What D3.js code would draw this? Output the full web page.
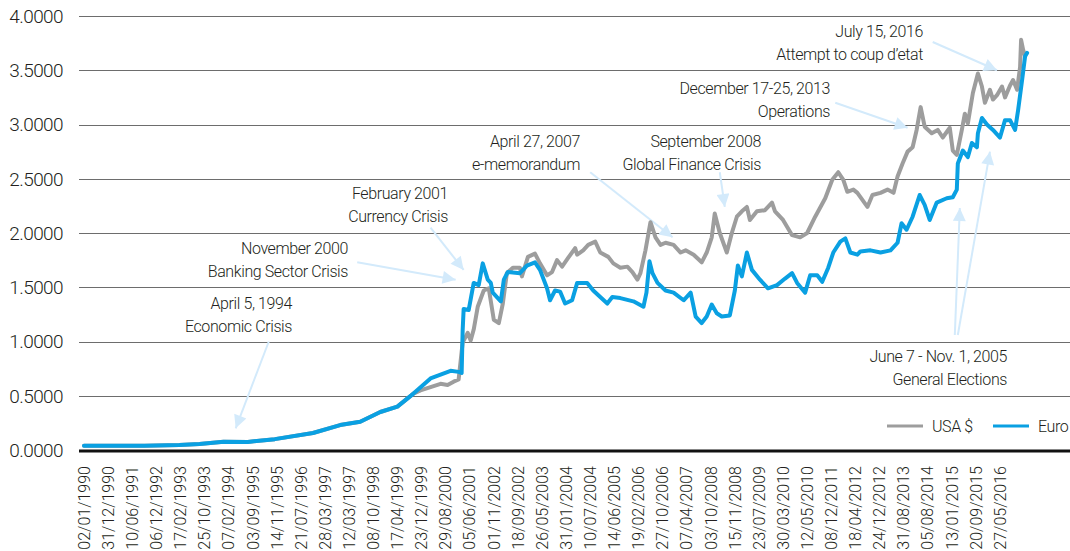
<!DOCTYPE html>
<meta charset="utf-8">
<style>
  body { margin: 0; background: white; }
  text { font-family: Roboto, "Liberation Sans", sans-serif; font-weight: 300; fill: #231f20; }
  .grid { stroke: #6d6d6d; stroke-width: 1px; }
  .baseline { stroke: #111; stroke-width: 3px; }
  .note-arrow { stroke: #d3eafb; stroke-width: 2px; fill: none; }
</style>
<html>
<body>
<script src="https://d3js.org/d3.v7.min.js"></script>
<script>
  // category labels (one every 24 observations)
  var tickLabels = ["02/01/1990","31/12/1990","10/06/1991","06/12/1992","17/02/1993","25/10/1993",
    "07/02/1994","03/09/1995","14/11/1995","21/07/1996","28/03/1997","12/03/1997","08/10/1998",
    "17/04/1999","23/12/1999","29/08/2000","05/06/2001","01/11/2002","18/09/2002","26/05/2003",
    "31/01/2004","10/07/2004","14/06/2005","19/02/2006","27/10/2006","07/04/2007","03/10/2008",
    "15/11/2008","23/07/2009","30/03/2010","12/05/2010","08/12/2011","18/04/2012","24/12/2012",
    "31/08/2013","05/08/2014","13/01/2015","20/09/2015","27/05/2016"];
  var tickStep = 24;

  var yTicks = [0, 0.5, 1, 1.5, 2, 2.5, 3, 3.5, 4];

  // [observation index, rate]
  var early = [[0,0.04],[60,0.04],[95,0.045],[115,0.055],[139,0.077],[163,0.074],[190,0.10],
    [228,0.157],[255,0.23],[275,0.26],[295,0.35],[312,0.40],[328,0.52]];

  var usd = early.concat([[335,0.55],[345,0.58],[355,0.61],[362,0.60],[368,0.63],[373,0.65],
    [377,0.99],[382,1.08],[385,1.01],[388,1.11],[392,1.32],[398,1.47],[403,1.49],[408,1.20],
    [413,1.17],[417,1.35],[421,1.63],[427,1.68],[434,1.68],[436,1.60],[442,1.78],[449,1.81],
    [454,1.72],[461,1.61],[466,1.64],[471,1.75],[476,1.69],[482,1.77],[489,1.86],[491,1.80],
    [497,1.84],[502,1.89],[509,1.92],[514,1.82],[522,1.78],[527,1.72],[534,1.68],[541,1.69],
    [546,1.64],[551,1.57],[554,1.63],[559,1.84],[564,2.10],[569,1.96],[574,1.89],[579,1.91],
    [587,1.89],[594,1.82],[599,1.84],[607,1.80],[615,1.73],[620,1.82],[625,1.96],[628,2.18],
    [633,2.00],[640,1.82],[645,2.00],[650,2.15],[655,2.20],[660,2.24],[663,2.12],[670,2.20],
    [678,2.21],[685,2.28],[688,2.20],[696,2.12],[705,1.98],[713,1.96],[720,2.00],[728,2.15],
    [738,2.32],[745,2.49],[751,2.56],[756,2.49],[760,2.38],[766,2.40],[770,2.37],[780,2.24],
    [785,2.35],[793,2.37],[800,2.40],[806,2.37],[810,2.52],[815,2.64],[820,2.75],[825,2.79],
    [829,2.95],[833,3.16],[837,2.98],[844,2.92],[850,2.95],[855,2.88],[862,2.97],[865,2.76],
    [869,2.72],[874,2.95],[877,3.10],[880,3.01],[885,3.29],[890,3.47],[894,3.35],[897,3.20],
    [902,3.32],[905,3.23],[909,3.27],[914,3.35],[917,3.25],[922,3.36],[925,3.41],[929,3.32],
    [932,3.53],[933,3.78],[935,3.69],[937,3.63]]);

  var euro = early.concat([[345,0.66],[365,0.73],[373,0.72],[376,0.71],[377,1.10],[378,1.30],
    [383,1.29],[388,1.54],[393,1.52],[397,1.72],[402,1.57],[405,1.54],[407,1.45],[415,1.37],
    [418,1.57],[422,1.64],[434,1.63],[441,1.70],[449,1.73],[454,1.66],[461,1.49],[464,1.38],
    [469,1.47],[474,1.46],[479,1.35],[486,1.38],[491,1.54],[501,1.54],[507,1.47],[521,1.35],
    [526,1.41],[534,1.40],[547,1.37],[557,1.32],[560,1.45],[563,1.74],[566,1.63],[571,1.54],
    [579,1.47],[587,1.45],[597,1.38],[604,1.45],[609,1.23],[615,1.17],[620,1.23],[625,1.34],
    [630,1.26],[635,1.23],[643,1.24],[648,1.47],[651,1.70],[655,1.60],[660,1.82],[665,1.66],
    [673,1.57],[681,1.49],[690,1.52],[698,1.58],[705,1.63],[710,1.54],[718,1.45],[723,1.61],
    [730,1.61],[735,1.55],[741,1.68],[746,1.82],[753,1.92],[758,1.95],[763,1.82],[770,1.80],
    [773,1.83],[783,1.84],[793,1.82],[803,1.84],[810,1.91],[814,2.09],[819,2.03],[825,2.15],
    [832,2.35],[837,2.26],[842,2.12],[849,2.28],[859,2.32],[865,2.33],[869,2.40],[870,2.64],
    [875,2.76],[880,2.70],[884,2.83],[889,2.79],[890,2.92],[894,3.06],[899,3.00],[905,2.95],
    [912,2.88],[917,3.04],[922,3.04],[927,2.95],[930,3.13],[934,3.41],[937,3.63],[939,3.66]]);

  var seriesNames = ["USA $", "Euro"];
  var seriesColors = ["#9d9d9d", "#0aa0e2"];

  // event notes: two text lines, arrow tail -> tip in [index, rate]
  var notes = [
    {lines: ["July 15, 2016", "Attempt to coup d\u2019etat"], arrows: [[[845,3.76],[909,3.50]]]},
    {lines: ["December 17-25, 2013", "Operations"], arrows: [[[748,3.20],[820,2.97]]]},
    {lines: ["April 27, 2007", "e-memorandum"], arrows: [[[504,2.56],[586,1.96]]]},
    {lines: ["September 2008", "Global Finance Crisis"], arrows: [[[633,2.56],[638,2.24]]]},
    {lines: ["February 2001", "Currency Crisis"], arrows: [[[345,2.05],[378,1.66]]]},
    {lines: ["November 2000", "Banking Sector Crisis"], arrows: [[[272,1.73],[370,1.57]]]},
    {lines: ["April 5, 1994", "Economic Crisis"], arrows: [[[184,1.00],[151,0.20]]]},
    {lines: ["June 7 - Nov. 1, 2005", "General Elections"], arrows: [[[867,1.06],[872,2.23]], [[870,1.06],[902,2.75]]]}
  ];
  // where each note's text block sits (right edge, first baseline)
  var noteAnchors = [[923,37],[830,94],[580,147],[761,147],[448,199],[348,254],[292,309],[1007,362]];

  var width = 1070, height = 551;

  var x = d3.scaleLinear()
    .domain([0, tickStep * (tickLabels.length - 1)])
    .range([84, 1000]);

  var y = d3.scaleLinear()
    .domain([0, 4])
    .range([450, 16]);

  var svg = d3.select("body").append("svg")
    .attr("width", width)
    .attr("height", height)
    .style("background-color", "white");

  // grid
  svg.selectAll("line.grid")
    .data(yTicks.filter(function(d){ return d > 0; }))
    .enter().append("line")
    .attr("class", "grid")
    .attr("x1", 79).attr("x2", width)
    .attr("y1", function(d){ return Math.round(y(d)) + 0.5; })
    .attr("y2", function(d){ return Math.round(y(d)) + 0.5; });

  svg.selectAll("text.ylab")
    .data(yTicks)
    .enter().append("text")
    .attr("class", "ylab")
    .attr("x", 63)
    .attr("y", function(d){ return y(d); })
    .attr("dy", "0.36em")
    .attr("text-anchor", "end")
    .style("font-size", "19px")
    .style("letter-spacing", "-0.6px")
    .text(d3.format(".4f"));

  // x labels
  svg.selectAll("text.xlab")
    .data(tickLabels)
    .enter().append("text")
    .attr("class", "xlab")
    .attr("transform", function(d, i){ return "translate(" + x(i * tickStep) + ",466) rotate(-90)"; })
    .attr("dy", "0.36em")
    .attr("text-anchor", "end")
    .style("font-size", "16px")
    .text(function(d){ return d; });

  // notes
  svg.append("defs").append("marker")
    .attr("id", "head")
    .attr("viewBox", "0 0 10 10")
    .attr("refX", 10).attr("refY", 5)
    .attr("markerUnits", "userSpaceOnUse")
    .attr("markerWidth", 16).attr("markerHeight", 13)
    .attr("orient", "auto")
    .append("path")
    .attr("d", "M0,0L10,5L0,10z")
    .attr("fill", "#d3eafb");

  notes.forEach(function(n, i){
    var a = noteAnchors[i];
    var t = svg.append("text")
      .attr("text-anchor", "end")
      .style("font-size", "16px")
      .style("letter-spacing", "-0.4px");
    n.lines.forEach(function(l, j){
      t.append("tspan").attr("x", a[0]).attr("y", a[1] + j * 22.5).text(l);
    });
    n.arrows.forEach(function(ar){
      svg.append("line")
        .attr("class", "note-arrow")
        .attr("x1", x(ar[0][0])).attr("y1", y(ar[0][1]))
        .attr("x2", x(ar[1][0])).attr("y2", y(ar[1][1]))
        .attr("marker-end", "url(#head)");
    });
  });

  // series
  var line = d3.line()
    .x(function(d){ return x(d[0]); })
    .y(function(d){ return y(d[1]); });

  [usd, euro].forEach(function(s, i){
    svg.append("path")
      .datum(s)
      .attr("d", line)
      .attr("fill", "none")
      .attr("stroke", seriesColors[i])
      .attr("stroke-width", 4)
      .attr("stroke-linejoin", "round")
      .attr("stroke-linecap", "round");
  });

  svg.append("line")
    .attr("class", "baseline")
    .attr("x1", 79).attr("x2", width)
    .attr("y1", y(0) + 1).attr("y2", y(0) + 1);

  // legend
  var legend = svg.selectAll("g.legend")
    .data(seriesNames)
    .enter().append("g")
    .attr("transform", function(d, i){ return "translate(" + (887 + i * 106) + ",426)"; });

  legend.append("line")
    .attr("x1", 0).attr("x2", 36)
    .attr("stroke", function(d, i){ return seriesColors[i]; })
    .attr("stroke-width", 3);

  legend.append("text")
    .attr("x", 45)
    .attr("dy", "0.36em")
    .style("font-size", "16px")
    .style("letter-spacing", "-0.4px")
    .text(function(d){ return d; });
</script>
</body>
</html>
